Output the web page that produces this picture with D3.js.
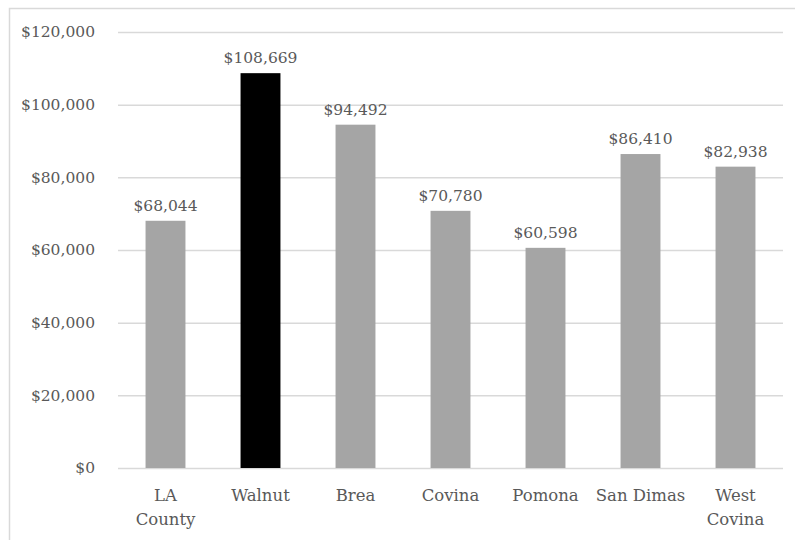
<!DOCTYPE html>
<html>
<head>
<meta charset="utf-8">
<script src="https://cdn.jsdelivr.net/npm/d3@7"></script>
<style>
	body { margin: 0; background: #fff; }
	svg text { font-family: "Palatino Linotype", "Book Antiqua", Palatino, "DejaVu Serif", serif; fill: #595959; }
</style>
</head>
<body>
<div id="chart"></div>
<script>
// chart data
let places = ["LA County", "Walnut", "Brea", "Covina", "Pomona", "San Dimas", "West Covina"];
let incomes = [68044, 108669, 94492, 70780, 60598, 86410, 82938];
let highlighted = ["Walnut"];
let yTicks = [0, 20000, 40000, 60000, 80000, 100000, 120000];

let totalWidth = 795, totalHeight = 540;
let margin = {top: 32, right: 12, bottom: 72, left: 118};
let width = totalWidth - margin.left - margin.right;
let height = totalHeight - margin.top - margin.bottom;

let svg = d3.select("#chart").append("svg")
	.attr("width", totalWidth)
	.attr("height", totalHeight);

// outer frame (runs off the right and bottom edges)
svg.append("rect")
	.attr("x", 9.5)
	.attr("y", 8.5)
	.attr("width", 820)
	.attr("height", 560)
	.attr("fill", "none")
	.attr("stroke", "#d9d9d9")
	.attr("stroke-width", 1.5);

let g = svg.append("g")
	.attr("transform", "translate(" + margin.left + "," + margin.top + ")");

// scales
let x = d3.scaleBand()
	.domain(places)
	.range([0, width])
	.paddingInner(0.58)
	.paddingOuter(0.29);
let y = d3.scaleLinear()
	.domain([0, 120000])
	.range([height, 0]);

// gridlines + y axis labels
let yAxis = d3.axisLeft(y)
	.tickValues(yTicks)
	.tickSize(-width)
	.tickPadding(23)
	.tickFormat(d => "$" + d3.format(",")(d));

g.append("g")
	.attr("class", "y-axis")
	.call(yAxis)
	.call(ax => ax.select(".domain").remove())
	.call(ax => ax.selectAll("line").attr("stroke", "#d9d9d9").attr("stroke-width", 1.5))
	.call(ax => ax.selectAll("text").attr("font-size", 15.5).style("fill", "#595959"));

// bars
g.selectAll(".bar")
	.data(places)
	.enter().append("rect")
	.attr("class", "bar")
	.attr("x", d => x(d))
	.attr("width", x.bandwidth())
	.attr("y", (d, i) => y(incomes[i]))
	.attr("height", (d, i) => height - y(incomes[i]))
	.attr("fill", d => highlighted.includes(d) ? "#000000" : "#a5a5a5");

// value labels
g.selectAll(".value")
	.data(places)
	.enter().append("text")
	.attr("class", "value")
	.attr("x", d => x(d) + x.bandwidth() / 2)
	.attr("y", (d, i) => y(incomes[i]) - 10)
	.attr("text-anchor", "middle")
	.attr("font-size", 15.5)
	.text((d, i) => "$" + d3.format(",")(incomes[i]));

// category labels (wrapped onto two lines where needed)
let wrapped = {"LA County": ["LA", "County"], "West Covina": ["West", "Covina"]};
let xLabels = g.selectAll(".xlabel")
	.data(places)
	.enter().append("text")
	.attr("class", "xlabel")
	.attr("text-anchor", "middle")
	.attr("font-size", 16.5)
	.attr("transform", d => "translate(" + (x(d) + x.bandwidth() / 2) + "," + (height + 33) + ")");

xLabels.each(function (d) {
	let lines = wrapped[d] || [d];
	d3.select(this).selectAll("tspan")
		.data(lines)
		.enter().append("tspan")
		.attr("x", 0)
		.attr("dy", (l, i) => i == 0 ? 0 : 24)
		.text(l => l);
});
</script>
</body>
</html>
